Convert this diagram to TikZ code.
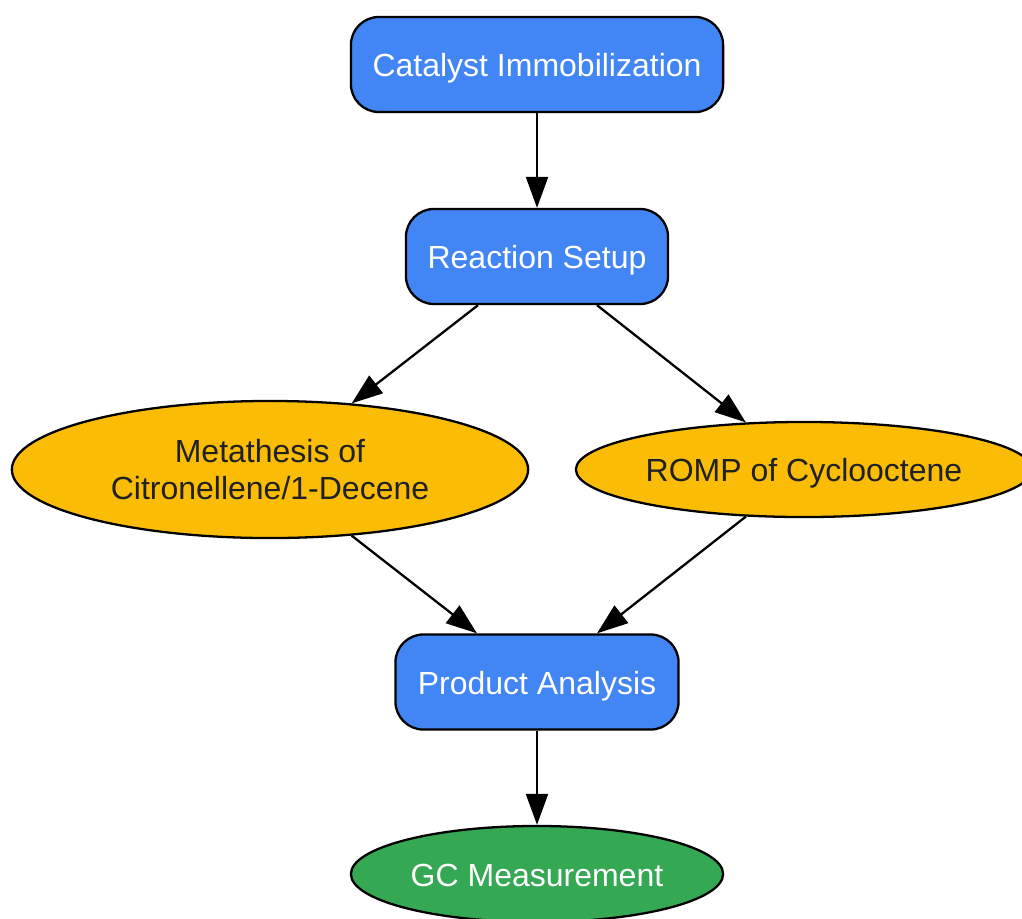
\documentclass[tikz,border=0pt]{standalone}
\usepackage{fontspec}
\setmainfont{Liberation Sans}
\usetikzlibrary{shapes.geometric,arrows.meta,calc}
\definecolor{gblue}{HTML}{4285F4}
\definecolor{gyellow}{HTML}{FBBC05}
\definecolor{ggreen}{HTML}{34A853}
\definecolor{gtext}{HTML}{202124}
\begin{document}
\begin{tikzpicture}[x=0.01cm,y=-0.01cm,
  base/.style={draw=black,line width=0.65pt,inner sep=0pt,font=\fontsize{9.1}{10.6}\selectfont},
  oneline/.style={text height=0.9em,text depth=0.2em},
  bluebox/.style={base,oneline,rectangle,rounded corners=0.28cm,fill=gblue,text=white,minimum height=0.95cm},
  yellowell/.style={base,ellipse,fill=gyellow,text=gtext},
  greenell/.style={base,oneline,ellipse,fill=ggreen,text=white},
  conn/.style={line width=0.65pt,-{Triangle[length=0.31cm,width=0.22cm]}}]
\useasboundingbox (0,0) rectangle (1022,918);
\node[bluebox,minimum width=3.72cm] (ci) at (537,64.5) {Catalyst Immobilization};
\node[bluebox,minimum width=2.62cm] (rs) at (537,256.5) {Reaction Setup};
\node[yellowell,align=center,minimum width=5.16cm,minimum height=1.37cm] (me) at (270,469.5) {Metathesis of\\Citronellene/1-Decene};
\node[yellowell,oneline,minimum width=4.56cm,minimum height=0.95cm] (ro) at (804,469.5) {ROMP of Cyclooctene};
\node[bluebox,minimum width=2.83cm] (pa) at (537,682) {Product Analysis};
\node[greenell,minimum width=3.72cm,minimum height=0.96cm] (gc) at (537,874) {GC Measurement};
\draw[conn] (ci) -- (rs);
\draw[conn] ($(rs.south)+(-59,0)$) -- (me.39);
\draw[conn] ($(rs.south)+(60,0)$) -- (ro.141);
\draw[conn] (me.-39) -- ($(pa.north)+(-60,0)$);
\draw[conn] (ro.219) -- ($(pa.north)+(60,0)$);
\draw[conn] (pa) -- (gc);
\end{tikzpicture}
\end{document}
